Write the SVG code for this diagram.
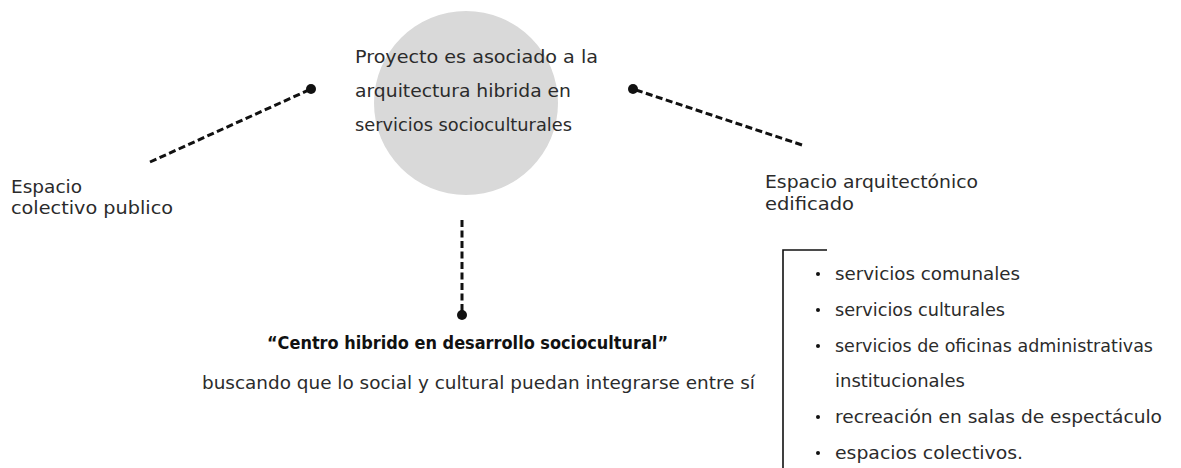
<svg xmlns="http://www.w3.org/2000/svg" width="1181" height="468" viewBox="0 0 1181 468">
<style>
  text { font-family: "DejaVu Sans", "Liberation Sans", sans-serif; font-size: 18.5px; fill: #2b2b2b; }
  .b { font-weight: bold; fill: #111; font-size: 18px; }
  .dash { stroke: #111; stroke-width: 3; stroke-dasharray: 7 3.5; fill: none; }
  .dot { fill: #111; }
</style>
<rect width="1181" height="468" fill="#ffffff"/>
<g id="center">
  <circle cx="466" cy="103" r="92" fill="#d9d9d9"/>
  <text x="355" y="63" textLength="243" lengthAdjust="spacingAndGlyphs">Proyecto es asociado a la</text>
  <text x="355" y="97" textLength="216" lengthAdjust="spacingAndGlyphs">arquitectura hibrida en</text>
  <text x="355" y="131" textLength="217" lengthAdjust="spacingAndGlyphs">servicios socioculturales</text>
</g>
<g id="left">
  <text x="11" y="193" textLength="71" lengthAdjust="spacingAndGlyphs">Espacio</text>
  <text x="11" y="214" textLength="162" lengthAdjust="spacingAndGlyphs">colectivo publico</text>
</g>
<g id="right">
  <text x="765" y="188" textLength="213" lengthAdjust="spacingAndGlyphs">Espacio arquitectónico</text>
  <text x="765" y="210" textLength="89" lengthAdjust="spacingAndGlyphs">edificado</text>
</g>
<g id="bottom">
  <text class="b" x="267" y="349" textLength="401" lengthAdjust="spacingAndGlyphs">“Centro hibrido en desarrollo sociocultural”</text>
  <text x="202" y="389" textLength="553" lengthAdjust="spacingAndGlyphs">buscando que lo social y cultural puedan integrarse entre sí</text>
</g>
<g id="list">
  <path d="M827 250 H783 V468" stroke="#111" stroke-width="1.6" fill="none"/>
  <g class="dot">
    <circle cx="818" cy="274" r="2"/>
    <circle cx="818" cy="310" r="2"/>
    <circle cx="818" cy="346" r="2"/>
    <circle cx="818" cy="417" r="2"/>
    <circle cx="818" cy="453" r="2"/>
  </g>
  <text x="835" y="280" textLength="185" lengthAdjust="spacingAndGlyphs">servicios comunales</text>
  <text x="835" y="316" textLength="170" lengthAdjust="spacingAndGlyphs">servicios culturales</text>
  <text x="835" y="352" textLength="318" lengthAdjust="spacingAndGlyphs">servicios de oficinas administrativas</text>
  <text x="835" y="387" textLength="130" lengthAdjust="spacingAndGlyphs">institucionales</text>
  <text x="835" y="423" textLength="327" lengthAdjust="spacingAndGlyphs">recreación en salas de espectáculo</text>
  <text x="835" y="459" textLength="188" lengthAdjust="spacingAndGlyphs">espacios colectivos.</text>
</g>
<g id="connectors">
  <line class="dash" x1="150" y1="162" x2="311" y2="89"/>
  <circle class="dot" cx="311" cy="89" r="5"/>
  <line class="dash" x1="802" y1="145" x2="633" y2="89"/>
  <circle class="dot" cx="633" cy="89" r="5"/>
  <line class="dash" x1="462" y1="220" x2="462" y2="315"/>
  <circle class="dot" cx="462" cy="315" r="5"/>
</g>
</svg>
